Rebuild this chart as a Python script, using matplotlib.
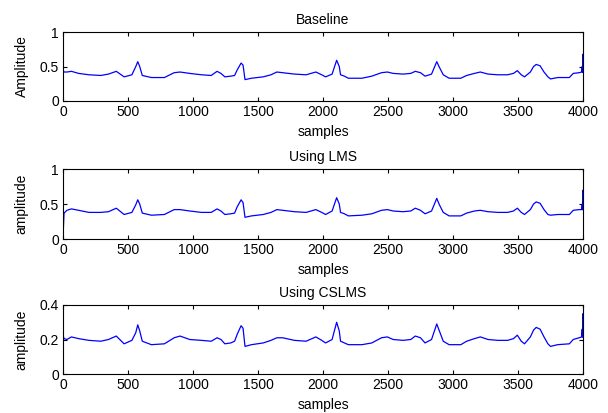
import matplotlib
matplotlib.use("Agg")
import matplotlib.pyplot as plt

plt.rcParams['font.family'] = ['Liberation Sans', 'DejaVu Sans']
plt.rcParams['font.size'] = 10

# sample positions (shared by all three traces)
samples = [0, 8, 30, 65, 120, 200, 290, 350, 410, 470,
           530, 560, 575, 590, 610, 680, 780, 855, 900, 975,
           1065, 1140, 1185, 1215, 1245, 1290, 1320, 1340, 1370, 1385,
           1400, 1450, 1540, 1600, 1645, 1690, 1780, 1870, 1945, 1990,
           2020, 2070, 2105, 2125, 2135, 2165, 2195, 2300, 2375, 2450,
           2495, 2540, 2615, 2675, 2710, 2750, 2785, 2835, 2875, 2895,
           2925, 2970, 3060, 3105, 3165, 3210, 3270, 3345, 3420, 3465,
           3495, 3525, 3550, 3595, 3620, 3640, 3670, 3700, 3730, 3750,
           3805, 3895, 3925, 3970, 3990, 3994, 3996, 3998, 4000, 4000]

baseline = [0.45, 0.42, 0.42, 0.43, 0.40, 0.38, 0.37, 0.39, 0.43, 0.35,
            0.38, 0.50, 0.57, 0.50, 0.37, 0.34, 0.34, 0.41, 0.42, 0.40,
            0.38, 0.37, 0.43, 0.40, 0.35, 0.36, 0.37, 0.45, 0.55, 0.52,
            0.31, 0.33, 0.35, 0.38, 0.42, 0.41, 0.39, 0.38, 0.42, 0.38,
            0.35, 0.39, 0.59, 0.50, 0.38, 0.36, 0.33, 0.33, 0.36, 0.41,
            0.42, 0.40, 0.39, 0.40, 0.43, 0.41, 0.36, 0.39, 0.57, 0.49,
            0.38, 0.33, 0.33, 0.37, 0.40, 0.42, 0.39, 0.38, 0.38, 0.40,
            0.44, 0.38, 0.35, 0.42, 0.50, 0.53, 0.51, 0.42, 0.35, 0.32,
            0.34, 0.34, 0.40, 0.41, 0.42, 0.50, 0.42, 0.50, 0.68, 0.42]

lms = [0.02, 0.37, 0.41, 0.43, 0.41, 0.38, 0.38, 0.39, 0.44, 0.35,
       0.38, 0.49, 0.56, 0.50, 0.37, 0.34, 0.35, 0.42, 0.42, 0.40,
       0.38, 0.38, 0.43, 0.40, 0.35, 0.36, 0.37, 0.46, 0.56, 0.52,
       0.31, 0.33, 0.35, 0.38, 0.42, 0.41, 0.39, 0.38, 0.42, 0.38,
       0.35, 0.40, 0.59, 0.50, 0.38, 0.36, 0.33, 0.34, 0.36, 0.41,
       0.42, 0.40, 0.39, 0.40, 0.44, 0.41, 0.36, 0.40, 0.58, 0.49,
       0.38, 0.33, 0.33, 0.37, 0.40, 0.41, 0.39, 0.38, 0.38, 0.40,
       0.44, 0.38, 0.35, 0.42, 0.50, 0.53, 0.51, 0.42, 0.35, 0.34,
       0.35, 0.35, 0.41, 0.42, 0.42, 0.50, 0.42, 0.50, 0.70, 0.42]

cslms = [0.225, 0.205, 0.20, 0.215, 0.205, 0.195, 0.19, 0.20, 0.22, 0.175,
         0.195, 0.24, 0.285, 0.25, 0.19, 0.17, 0.175, 0.21, 0.22, 0.20,
         0.195, 0.19, 0.21, 0.20, 0.175, 0.18, 0.19, 0.23, 0.28, 0.265,
         0.16, 0.17, 0.18, 0.195, 0.21, 0.21, 0.195, 0.19, 0.215, 0.195,
         0.18, 0.20, 0.30, 0.25, 0.19, 0.18, 0.17, 0.17, 0.18, 0.21,
         0.215, 0.20, 0.195, 0.20, 0.22, 0.21, 0.18, 0.20, 0.29, 0.25,
         0.19, 0.17, 0.17, 0.19, 0.205, 0.215, 0.20, 0.195, 0.195, 0.205,
         0.225, 0.19, 0.175, 0.215, 0.255, 0.27, 0.26, 0.215, 0.175, 0.16,
         0.17, 0.175, 0.20, 0.21, 0.215, 0.26, 0.215, 0.26, 0.35, 0.215]

titles = ['Baseline', 'Using LMS', 'Using CSLMS']
ylabels = ['Amplitude', 'amplitude', 'amplitude']
series = [baseline, lms, cslms]
ylims = [(0, 1), (0, 1), (0, 0.4)]
yticks = [[0, 0.5, 1], [0, 0.5, 1], [0, 0.2, 0.4]]
ytick_labels = [['0', '0.5', '1'], ['0', '0.5', '1'], ['0', '0.2', '0.4']]
xticks = [0, 500, 1000, 1500, 2000, 2500, 3000, 3500, 4000]

fig = plt.figure(figsize=(6.08, 4.13), dpi=100)
W, H = 608, 413
# axes boxes in pixels: (left, top, right, bottom)
boxes = [(63, 32, 583, 101), (63, 169, 583, 239), (63, 305, 583, 374)]

for i in range(3):
    l, t, r, b = boxes[i]
    ax = fig.add_axes([l / W, 1 - b / H, (r - l) / W, (b - t) / H])
    ax.plot(samples, series[i], color='#0000ff', lw=0.9)
    ax.set_xlim(0, 4000)
    ax.set_ylim(*ylims[i])
    ax.set_xticks(xticks)
    ax.set_yticks(yticks[i])
    ax.set_yticklabels(ytick_labels[i])
    ax.tick_params(direction='in', length=3, width=0.8, top=True, right=True, pad=3,
                   labelsize=10)
    for s in ax.spines.values():
        s.set_linewidth(0.8)
    ax.set_title(titles[i], fontsize=10, pad=6)
    ax.set_xlabel('samples', fontsize=10, labelpad=4)
    ax.set_ylabel(ylabels[i], fontsize=10, labelpad=8)

fig.savefig('out.png', dpi=100)
